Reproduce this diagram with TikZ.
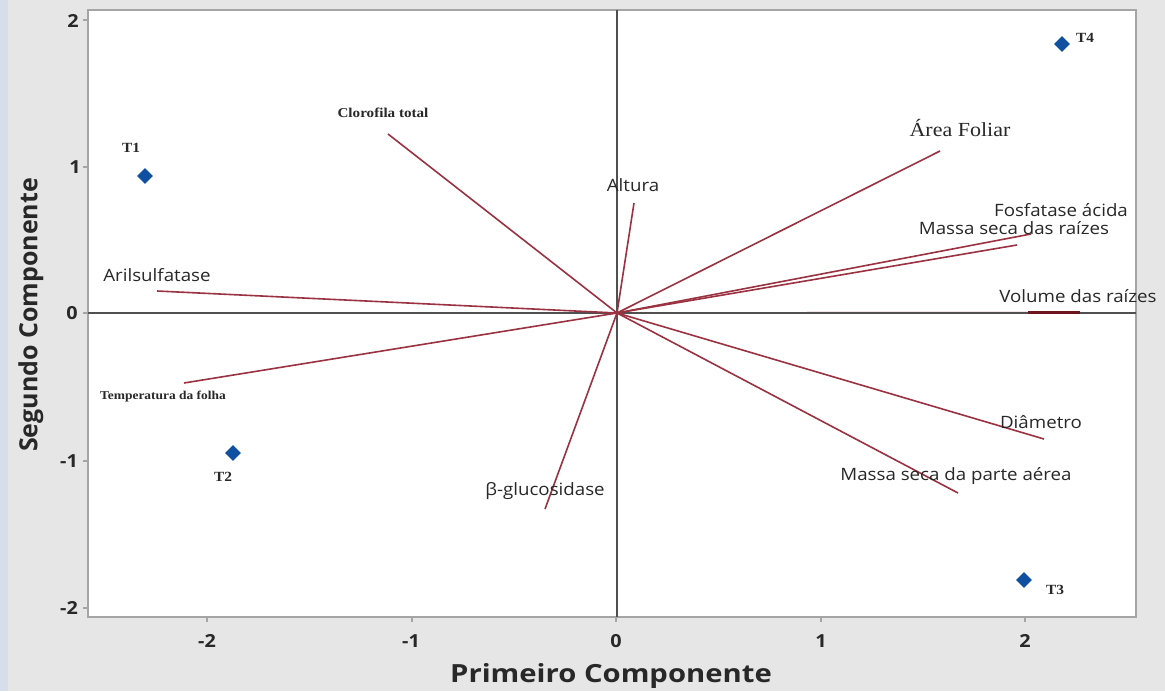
\documentclass[tikz,border=0pt]{standalone}
\usepackage{fontspec}
\setmainfont{Liberation Serif}
\setsansfont{Open Sans}
\usetikzlibrary{shapes.geometric}
\definecolor{bggray}{RGB}{230,230,230}
\definecolor{stripblue}{RGB}{214,222,236}
\definecolor{framegray}{RGB}{165,165,165}
\definecolor{axisgray}{RGB}{80,80,80}
\definecolor{vecred}{RGB}{155,50,65}
\definecolor{vecdark}{RGB}{110,20,30}
\definecolor{ptblue}{RGB}{16,80,160}
\definecolor{txtdark}{RGB}{40,40,40}
\tikzset{
  vec/.style={draw=vecred, line width=1.6pt},
  axline/.style={draw=axisgray, line width=2.4pt},
  pt/.style={diamond, fill=ptblue, inner sep=0pt, minimum size=16pt},
  lab/.style={inner sep=0pt, text=txtdark, xscale=1.1, font=\sffamily\fontsize{17}{20}\selectfont},
  slab/.style={inner sep=0pt, text=txtdark, xscale=1.1, font=\rmfamily\fontsize{20}{24}\selectfont},
  blab/.style={inner sep=0pt, text=txtdark, xscale=1.12, font=\rmfamily\bfseries\fontsize{13.5}{16}\selectfont},
  tlab/.style={inner sep=0pt, text=txtdark, xscale=1.1, font=\rmfamily\bfseries\fontsize{14}{16}\selectfont},
  tick/.style={inner sep=0pt, text=txtdark, xscale=1.1, font=\sffamily\bfseries\fontsize{18}{20}\selectfont},
  title/.style={inner sep=0pt, text=txtdark, font=\sffamily\bfseries\fontsize{25}{28}\selectfont},
  tickmark/.style={draw=framegray, line width=1.2pt}
}
\begin{document}
\begin{tikzpicture}[x=1pt,y=-1pt]
\useasboundingbox (0,0) rectangle (1165,691);
% background
\fill[bggray] (0,0) rectangle (1165,691);
\fill[stripblue] (0,0) rectangle (8,691);
% plot area
\fill[white] (88,10) rectangle (1136,617);
\draw[framegray, line width=1.5pt] (88,10) rectangle (1136,617);
% tick marks
\foreach \yy in {20,167,313,461,608} \draw[tickmark] (83,\yy) -- (88,\yy);
\foreach \xx in {207,412,616,821,1025} \draw[tickmark] (\xx,617) -- (\xx,622);
% tick labels
\node[tick] (y2) at (73,21) {2};
\node[tick] (y1) at (75,167) {1};
\node[tick] (y0) at (72,313) {0};
\node[tick] (ym1) at (69,461) {-1};
\node[tick] (ym2) at (69,608) {-2};
\node[tick] (xm2) at (207,641) {-2};
\node[tick] (xm1) at (411,641) {-1};
\node[tick] (x0) at (616,641) {0};
\node[tick] (x1) at (821,641) {1};
\node[tick] (x2) at (1025,641) {2};
% axis titles
\node[title, xscale=1.17] (xt) at (611,676) {Primeiro Componente};
\node[title, rotate=90] (yt) at (31,315) {Segundo Componente};
% origin and axis ends
\coordinate (O) at (617,313);
\coordinate (vt) at (617,10);
\coordinate (vb) at (617,617);
\coordinate (hl) at (88,313);
\coordinate (hr) at (1136,313);
% vector ends
\coordinate (eClo) at (388,134);
\coordinate (eAri) at (157,291);
\coordinate (eTem) at (184,383);
\coordinate (eBeta) at (545,509);
\coordinate (eAlt) at (634,203);
\coordinate (eArea) at (940,151);
\coordinate (eFos) at (1031,234);
\coordinate (eMsr) at (1017,245);
\coordinate (eVolS) at (1028,312.5);
\coordinate (eVol) at (1080,312.5);
\coordinate (eDia) at (1044,439);
\coordinate (eMsa) at (958,493);
\draw[vec] (O) -- (eVol);
% axes through origin
\draw[axline] (vt) -- (vb);
\draw[axline] (hl) -- (hr);
\draw[draw=vecdark, line width=2.4pt] (eVolS) -- (eVol);
\foreach \e in {eClo,eAri,eTem,eBeta,eAlt,eArea,eFos,eMsr,eDia,eMsa} \draw[vec] (O) -- (\e);
% vector labels
\node[blab] (lClo) at (383,113) {Clorofila total};
\node[lab] (lAri) at (157,275) {Arilsulfatase};
\node[blab, font=\rmfamily\bfseries\fontsize{12}{14}\selectfont] (lTem) at (163,397) {Temperatura da folha};
\node[lab] (lBeta) at (545,491) {β-glucosidase};
\node[lab] (lAlt) at (633,185) {Altura};
\node[slab] (lArea) at (960,128) {Área Foliar};
\node[lab] (lFos) at (1061,210) {Fosfatase ácida};
\node[lab] (lMsr) at (1014,228) {Massa seca das raízes};
\node[lab] (lVol) at (1078,296) {Volume das raízes};
\node[lab] (lDia) at (1041,422) {Diâmetro};
\node[lab] (lMsa) at (956,476) {Massa seca da parte aérea};
% treatment points
\node[pt] (T1) at (145,176) {};
\node[pt] (T2) at (233,453) {};
\node[pt] (T3) at (1024,580) {};
\node[pt] (T4) at (1062,44) {};
\node[tlab] (lT1) at (131,148) {T1};
\node[tlab] (lT2) at (223,477) {T2};
\node[tlab] (lT3) at (1055,590) {T3};
\node[tlab] (lT4) at (1085,38) {T4};
\end{tikzpicture}
\end{document}
